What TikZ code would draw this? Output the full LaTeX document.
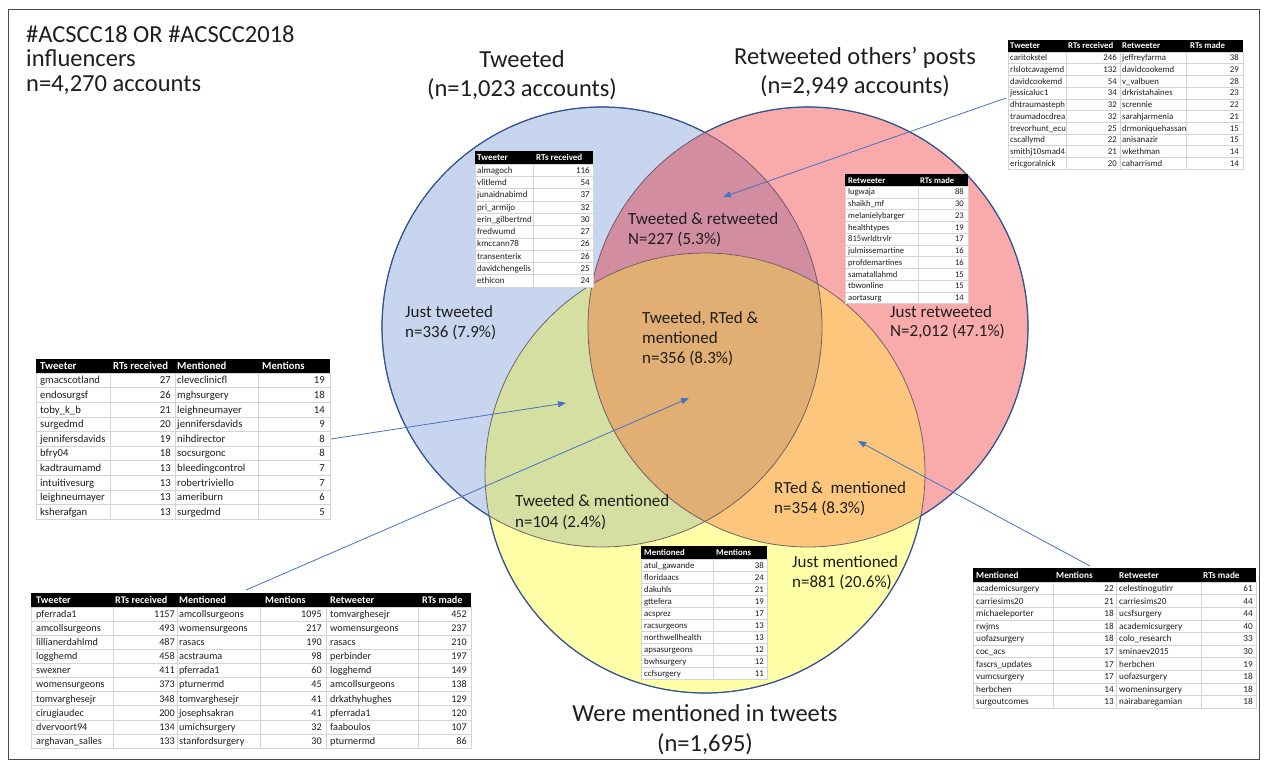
\documentclass[tikz,border=0pt]{standalone}
\usepackage{fontspec}
\setmainfont{Carlito}
\usetikzlibrary{arrows.meta}
\definecolor{cB}{HTML}{C8D5EE}
\definecolor{cR}{HTML}{F9AAAB}
\definecolor{cY}{HTML}{FFFFA8}
\definecolor{cBR}{HTML}{D38DA0}
\definecolor{cBY}{HTML}{D5DFA2}
\definecolor{cRY}{HTML}{FCC67C}
\definecolor{cBRY}{HTML}{E1AF73}
\definecolor{edgeblue}{HTML}{2F5597}
\definecolor{inedge}{HTML}{5E4E60}
\definecolor{arrblue}{HTML}{4472C4}
\definecolor{gridgray}{HTML}{D4D4D4}
\definecolor{txt}{HTML}{1E1E1E}
\tikzset{
 tgrid/.style={draw=gridgray,line width=0.5pt},
 cell/.style={anchor=base west,inner sep=0pt,text=txt},
 num/.style={anchor=base east,inner sep=0pt,text=txt},
 hcell/.style={anchor=base west,inner sep=0pt,text=white,execute at begin node=\bfseries},
 ttl/.style={anchor=base,inner sep=0pt,text=txt,font=\fontsize{24.5}{28}\selectfont},
 tlt/.style={anchor=base west,inner sep=0pt,text=txt,font=\fontsize{24.5}{24}\selectfont},
 lbl/.style={anchor=base west,inner sep=0pt,text=txt,font=\fontsize{17}{20}\selectfont},
 arr/.style={draw=arrblue,line width=0.8pt,-{Triangle[length=8pt,width=6pt]}},
}
\def\pB{(602,327) circle[radius=220pt]}
\def\pR{(808,327) circle[radius=220pt]}
\def\pY{(705,473) circle[radius=220pt]}
\def\bigrect{(-100,-100) rectangle (1400,900)}
\newcommand\tabframe[2]{%
  \fill[white] (0,\tabH) rectangle (#1,{\tabH+10*\tabR});
  \foreach \k in {1,...,9} \draw[tgrid] (0,{\tabH+\k*\tabR}) -- (#1,{\tabH+\k*\tabR});
  \foreach \v in {#2} \draw[tgrid] (\v,\tabH) -- (\v,{\tabH+10*\tabR});
  \draw[tgrid] (0,\tabH) rectangle (#1,{\tabH+10*\tabR});
  \fill[black] (0,0) rectangle (#1,\tabH);
}
\begin{document}
\begin{tikzpicture}[x=1pt,y=-1pt]
\useasboundingbox[fill=white] (0,0) rectangle (1266,765);
\draw[black!70,line width=0.8pt] (8,9) rectangle (1259,759);

% ---- Venn fills
\fill[cB] \pB;
\fill[cR] \pR;
\begin{scope}\clip \pB; \fill[cBR] \pR; \end{scope}
\fill[cY] \pY;
\begin{scope}\clip \pY; \fill[cBY] \pB; \end{scope}
\begin{scope}\clip \pY; \fill[cRY] \pR; \end{scope}
\begin{scope}\clip \pY; \clip \pB; \fill[cBRY] \pR; \end{scope}
% ---- outlines
\draw[inedge,line width=0.8pt,opacity=0.85] \pB \pR \pY;
\begin{scope}[even odd rule]
 \clip \bigrect \pR; \clip \bigrect \pY;
 \draw[edgeblue,line width=1.2pt] \pB;
\end{scope}
\begin{scope}[even odd rule]
 \clip \bigrect \pB; \clip \bigrect \pY;
 \draw[edgeblue,line width=1.2pt] \pR;
\end{scope}
\begin{scope}[even odd rule]
 \clip \bigrect \pB; \clip \bigrect \pR;
 \draw[edgeblue,line width=1.2pt] \pY;
\end{scope}

% ---- titles
\node[tlt] (tl1) at (26,43) {\#ACSCC18 OR \#ACSCC2018};
\node[tlt] (tl2) at (26,67) {influencers};
\node[tlt] (tl3) at (26,92) {n=4,270 accounts};
\node[ttl] (tw1) at (522,68) {Tweeted};
\node[ttl] (tw2) at (522,97) {(n=1,023 accounts)};
\node[ttl] (rt1) at (855,65) {Retweeted others’ posts};
\node[ttl] (rt2) at (855,94) {(n=2,949 accounts)};
\node[ttl] (mn1) at (705,721) {Were mentioned in tweets};
\node[ttl] (mn2) at (705,751) {(n=1,695)};

% ---- region labels
\node[lbl] (jt1) at (405,317) {Just tweeted};
\node[lbl] (jt2) at (405,337) {n=336 (7.9\%)};
\node[lbl] (tr1) at (628,224) {Tweeted \& retweeted};
\node[lbl] (tr2) at (628,244) {N=227 (5.3\%)};
\node[lbl] (al1) at (642,323) {Tweeted, RTed \&};
\node[lbl] (al2) at (642,343) {mentioned};
\node[lbl] (al3) at (642,363) {n=356 (8.3\%)};
\node[lbl] (jr1) at (890,317) {Just retweeted};
\node[lbl] (jr2) at (890,336) {N=2,012 (47.1\%)};
\node[lbl] (tm1) at (515,506) {Tweeted \& mentioned};
\node[lbl] (tm2) at (515,527) {n=104 (2.4\%)};
\node[lbl] (rm1) at (774,493) {RTed \& \ mentioned};
\node[lbl] (rm2) at (774,513) {n=354 (8.3\%)};
\node[lbl] (jm1) at (792,567) {Just mentioned};
\node[lbl] (jm2) at (792,587) {n=881 (20.6\%)};

% ---- Table 1 (top right)
\begin{scope}[shift={(1008,40)},font=\fontsize{8.8}{10}\selectfont]
 \def\tabH{12}\def\tabR{11.7}\def\tabB{3}
 \tabframe{235}{58,112,178}
 \node[hcell] (T1-h1) at (2,{\tabH/2+\tabB}) {Tweeter};
 \node[hcell] (T1-h2) at (60,{\tabH/2+\tabB}) {RTs received};
 \node[hcell] (T1-h3) at (114,{\tabH/2+\tabB}) {Retweeter};
 \node[hcell] (T1-h4) at (182,{\tabH/2+\tabB}) {RTs made};
 \foreach \va/\vb/\vc/\vd [count=\i] in {caritokstel/246/jeffreyfarma/38,
  rlslotcavagemd/132/davidcookemd/29, davidcookemd/54/v\_valbuen/28,
  jessicaluc1/34/drkristahaines/23, dhtraumasteph/32/scrennie/22,
  traumadocdrea/32/sarahjarmenia/21, trevorhunt\_ecu/25/drmoniquehassan/15,
  cscallymd/22/anisanazir/15, smithj10smad4/21/wkethman/14,
  ericgoralnick/20/caharrismd/14}{
  \node[cell] (T1-\i-1) at (2,{\tabH+(\i-0.5)*\tabR+\tabB}) {\va};
  \node[num] (T1-\i-2) at (109,{\tabH+(\i-0.5)*\tabR+\tabB}) {\vb};
  \node[cell] (T1-\i-3) at (114,{\tabH+(\i-0.5)*\tabR+\tabB}) {\vc};
  \node[num] (T1-\i-4) at (231,{\tabH+(\i-0.5)*\tabR+\tabB}) {\vd};
 }
\end{scope}

% ---- Table 2 (tweeted)
\begin{scope}[shift={(475,151)},font=\fontsize{9}{10}\selectfont]
 \def\tabH{13}\def\tabR{12.3}\def\tabB{3}
 \tabframe{118}{58}
 \node[hcell] (T2-h1) at (2,{\tabH/2+\tabB}) {Tweeter};
 \node[hcell] (T2-h2) at (61,{\tabH/2+\tabB}) {RTs received};
 \foreach \va/\vb [count=\i] in {almagoch/116, vlitlemd/54, junaidnabimd/37,
  pri\_armijo/32, erin\_gilbertmd/30, fredwumd/27, kmccann78/26,
  transenterix/26, davidchengelis/25, ethicon/24}{
  \node[cell] (T2-\i-1) at (2,{\tabH+(\i-0.5)*\tabR+\tabB}) {\va};
  \node[num] (T2-\i-2) at (115,{\tabH+(\i-0.5)*\tabR+\tabB}) {\vb};
 }
\end{scope}

% ---- Table 3 (retweeter)
\begin{scope}[shift={(845,174)},font=\fontsize{8.6}{10}\selectfont]
 \def\tabH{12}\def\tabR{11.75}\def\tabB{3}
 \tabframe{123}{73}
 \node[hcell] (T3-h1) at (3,{\tabH/2+\tabB}) {Retweeter};
 \node[hcell] (T3-h2) at (75,{\tabH/2+\tabB}) {RTs made};
 \foreach \va/\vb [count=\i] in {lugwaja/88, shaikh\_mf/30, melanielybarger/23,
  healthtypes/19, 815wrldtrvlr/17, julmissemartine/16, profdemartines/16,
  samatallahmd/15, tbwonline/15, aortasurg/14}{
  \node[cell] (T3-\i-1) at (3,{\tabH+(\i-0.5)*\tabR+\tabB}) {\va};
  \node[num] (T3-\i-2) at (119,{\tabH+(\i-0.5)*\tabR+\tabB}) {\vb};
 }
\end{scope}

% ---- Table 4 (left)
\begin{scope}[shift={(36,359)},font=\fontsize{10.7}{12}\selectfont]
 \def\tabH{14}\def\tabR{14.6}\def\tabB{3.5}
 \tabframe{294}{74,139,222}
 \node[hcell] (T4-h1) at (4,{\tabH/2+\tabB}) {Tweeter};
 \node[hcell] (T4-h2) at (77,{\tabH/2+\tabB}) {RTs received};
 \node[hcell] (T4-h3) at (141,{\tabH/2+\tabB}) {Mentioned};
 \node[hcell] (T4-h4) at (226,{\tabH/2+\tabB}) {Mentions};
 \foreach \va/\vb/\vc/\vd [count=\i] in {gmacscotland/27/cleveclinicfl/19,
  endosurgsf/26/mghsurgery/18, toby\_k\_b/21/leighneumayer/14,
  surgedmd/20/jennifersdavids/9, jennifersdavids/19/nihdirector/8,
  bfry04/18/socsurgonc/8, kadtraumamd/13/bleedingcontrol/7,
  intuitivesurg/13/robertriviello/7, leighneumayer/13/ameriburn/6,
  ksherafgan/13/surgedmd/5}{
  \node[cell] (T4-\i-1) at (4,{\tabH+(\i-0.5)*\tabR+\tabB}) {\va};
  \node[num] (T4-\i-2) at (135,{\tabH+(\i-0.5)*\tabR+\tabB}) {\vb};
  \node[cell] (T4-\i-3) at (141,{\tabH+(\i-0.5)*\tabR+\tabB}) {\vc};
  \node[num] (T4-\i-4) at (289,{\tabH+(\i-0.5)*\tabR+\tabB}) {\vd};
 }
\end{scope}

% ---- Table 5 (bottom left)
\begin{scope}[shift={(31,593)},font=\fontsize{10.2}{12}\selectfont]
 \def\tabH{14}\def\tabR{14.1}\def\tabB{3.4}
 \tabframe{440}{82,146,229,295,387}
 \node[hcell] (T5-h1) at (5,{\tabH/2+\tabB}) {Tweeter};
 \node[hcell] (T5-h2) at (84,{\tabH/2+\tabB}) {RTs received};
 \node[hcell] (T5-h3) at (148,{\tabH/2+\tabB}) {Mentioned};
 \node[hcell] (T5-h4) at (234,{\tabH/2+\tabB}) {Mentions};
 \node[hcell] (T5-h5) at (299,{\tabH/2+\tabB}) {Retweeter};
 \node[hcell] (T5-h6) at (391,{\tabH/2+\tabB}) {RTs made};
 \foreach \va/\vb/\vc/\vd/\ve/\vf [count=\i] in {
  pferrada1/1157/amcollsurgeons/1095/tomvarghesejr/452,
  amcollsurgeons/493/womensurgeons/217/womensurgeons/237,
  lillianerdahlmd/487/rasacs/190/rasacs/210,
  logghemd/458/acstrauma/98/perbinder/197,
  swexner/411/pferrada1/60/logghemd/149,
  womensurgeons/373/pturnermd/45/amcollsurgeons/138,
  tomvarghesejr/348/tomvarghesejr/41/drkathyhughes/129,
  cirugiaudec/200/josephsakran/41/pferrada1/120,
  dvervoort94/134/umichsurgery/32/faaboulos/107,
  arghavan\_salles/133/stanfordsurgery/30/pturnermd/86}{
  \node[cell] (T5-\i-1) at (5,{\tabH+(\i-0.5)*\tabR+\tabB}) {\va};
  \node[num] (T5-\i-2) at (144,{\tabH+(\i-0.5)*\tabR+\tabB}) {\vb};
  \node[cell] (T5-\i-3) at (148,{\tabH+(\i-0.5)*\tabR+\tabB}) {\vc};
  \node[num] (T5-\i-4) at (291,{\tabH+(\i-0.5)*\tabR+\tabB}) {\vd};
  \node[cell] (T5-\i-5) at (299,{\tabH+(\i-0.5)*\tabR+\tabB}) {\ve};
  \node[num] (T5-\i-6) at (436,{\tabH+(\i-0.5)*\tabR+\tabB}) {\vf};
 }
\end{scope}

% ---- Table 6 (mentioned)
\begin{scope}[shift={(641,546)},font=\fontsize{8.8}{10}\selectfont]
 \def\tabH{13}\def\tabR{12}\def\tabB{3}
 \tabframe{126}{72}
 \node[hcell] (T6-h1) at (3,{\tabH/2+\tabB}) {Mentioned};
 \node[hcell] (T6-h2) at (75,{\tabH/2+\tabB}) {Mentions};
 \foreach \va/\vb [count=\i] in {atul\_gawande/38, floridaacs/24, dakuhls/21,
  gttefera/19, acsprez/17, racsurgeons/13, northwellhealth/13,
  apsasurgeons/12, bwhsurgery/12, ccfsurgery/11}{
  \node[cell] (T6-\i-1) at (3,{\tabH+(\i-0.5)*\tabR+\tabB}) {\va};
  \node[num] (T6-\i-2) at (123,{\tabH+(\i-0.5)*\tabR+\tabB}) {\vb};
 }
\end{scope}

% ---- Table 7 (bottom right)
\begin{scope}[shift={(973,568)},font=\fontsize{9.2}{11}\selectfont]
 \def\tabH{14}\def\tabR{12.6}\def\tabB{3.1}
 \tabframe{283}{80,143,228}
 \node[hcell] (T7-h1) at (3,{\tabH/2+\tabB}) {Mentioned};
 \node[hcell] (T7-h2) at (83,{\tabH/2+\tabB}) {Mentions};
 \node[hcell] (T7-h3) at (146,{\tabH/2+\tabB}) {Retweeter};
 \node[hcell] (T7-h4) at (230,{\tabH/2+\tabB}) {RTs made};
 \foreach \va/\vb/\vc/\vd [count=\i] in {academicsurgery/22/celestinogutirr/61,
  carriesims20/21/carriesims20/44, michaeleporter/18/ucsfsurgery/44,
  rwjms/18/academicsurgery/40, uofazsurgery/18/colo\_research/33,
  coc\_acs/17/sminaev2015/30, fascrs\_updates/17/herbchen/19,
  vumcsurgery/17/uofazsurgery/18, herbchen/14/womeninsurgery/18,
  surgoutcomes/13/nairabaregamian/18}{
  \node[cell] (T7-\i-1) at (3,{\tabH+(\i-0.5)*\tabR+\tabB}) {\va};
  \node[num] (T7-\i-2) at (141,{\tabH+(\i-0.5)*\tabR+\tabB}) {\vb};
  \node[cell] (T7-\i-3) at (146,{\tabH+(\i-0.5)*\tabR+\tabB}) {\vc};
  \node[num] (T7-\i-4) at (280,{\tabH+(\i-0.5)*\tabR+\tabB}) {\vd};
 }
\end{scope}

% ---- arrows
\coordinate (a1s) at (1006,98);  \coordinate (a1e) at (723,197);
\coordinate (a2s) at (331,439);  \coordinate (a2e) at (566,403);
\coordinate (a3s) at (246,590);  \coordinate (a3e) at (689,398);
\coordinate (a4s) at (1090,566); \coordinate (a4e) at (858,441);
\draw[arr] (a1s) -- (a1e);
\draw[arr] (a2s) -- (a2e);
\draw[arr] (a3s) -- (a3e);
\draw[arr] (a4s) -- (a4e);
\end{tikzpicture}
\end{document}
